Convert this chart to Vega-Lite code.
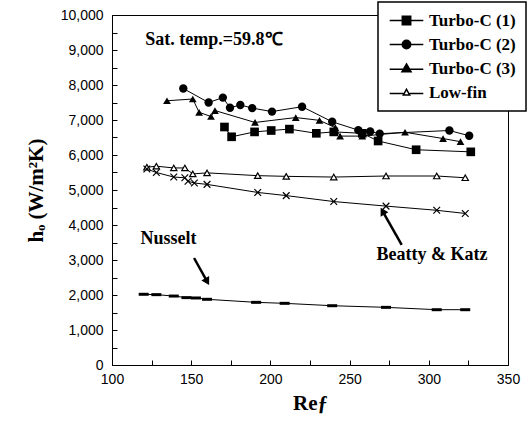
{
  "$schema": "https://vega.github.io/schema/vega-lite/v6.json",
  "width": 396,
  "height": 350,
  "autosize": "none",
  "padding": {"left": 112, "top": 15, "right": 23, "bottom": 59},
  "background": "white",
  "datasets": {
    "pts": [
      {"series": "Turbo-C (1)", "re": 171, "h": 6800},
      {"series": "Turbo-C (1)", "re": 175.5, "h": 6520},
      {"series": "Turbo-C (1)", "re": 190, "h": 6660},
      {"series": "Turbo-C (1)", "re": 200.5, "h": 6700},
      {"series": "Turbo-C (1)", "re": 212, "h": 6740},
      {"series": "Turbo-C (1)", "re": 229, "h": 6620},
      {"series": "Turbo-C (1)", "re": 240, "h": 6660},
      {"series": "Turbo-C (1)", "re": 258, "h": 6620},
      {"series": "Turbo-C (1)", "re": 268, "h": 6400},
      {"series": "Turbo-C (1)", "re": 292, "h": 6150},
      {"series": "Turbo-C (1)", "re": 326.5, "h": 6090},
      {"series": "Turbo-C (2)", "re": 145, "h": 7900},
      {"series": "Turbo-C (2)", "re": 161, "h": 7500},
      {"series": "Turbo-C (2)", "re": 170, "h": 7640},
      {"series": "Turbo-C (2)", "re": 174.5, "h": 7350},
      {"series": "Turbo-C (2)", "re": 181, "h": 7430},
      {"series": "Turbo-C (2)", "re": 188.5, "h": 7340},
      {"series": "Turbo-C (2)", "re": 201, "h": 7240},
      {"series": "Turbo-C (2)", "re": 220, "h": 7380},
      {"series": "Turbo-C (2)", "re": 239, "h": 6950},
      {"series": "Turbo-C (2)", "re": 255.5, "h": 6710},
      {"series": "Turbo-C (2)", "re": 263, "h": 6670},
      {"series": "Turbo-C (2)", "re": 269, "h": 6610},
      {"series": "Turbo-C (2)", "re": 313, "h": 6700},
      {"series": "Turbo-C (2)", "re": 325.5, "h": 6550},
      {"series": "Turbo-C (3)", "re": 134.7, "h": 7550},
      {"series": "Turbo-C (3)", "re": 151, "h": 7600},
      {"series": "Turbo-C (3)", "re": 155, "h": 7220},
      {"series": "Turbo-C (3)", "re": 162.5, "h": 7100},
      {"series": "Turbo-C (3)", "re": 165, "h": 7270},
      {"series": "Turbo-C (3)", "re": 190.3, "h": 6930},
      {"series": "Turbo-C (3)", "re": 216, "h": 7070},
      {"series": "Turbo-C (3)", "re": 231, "h": 6990},
      {"series": "Turbo-C (3)", "re": 241, "h": 6780},
      {"series": "Turbo-C (3)", "re": 244, "h": 6540},
      {"series": "Turbo-C (3)", "re": 258, "h": 6540},
      {"series": "Turbo-C (3)", "re": 285, "h": 6650},
      {"series": "Turbo-C (3)", "re": 309, "h": 6470},
      {"series": "Turbo-C (3)", "re": 320, "h": 6380},
      {"series": "Low-fin", "re": 122, "h": 5650},
      {"series": "Low-fin", "re": 128, "h": 5680},
      {"series": "Low-fin", "re": 139, "h": 5630},
      {"series": "Low-fin", "re": 146, "h": 5630},
      {"series": "Low-fin", "re": 151, "h": 5460},
      {"series": "Low-fin", "re": 160, "h": 5490},
      {"series": "Low-fin", "re": 192, "h": 5410},
      {"series": "Low-fin", "re": 210, "h": 5390},
      {"series": "Low-fin", "re": 240, "h": 5370},
      {"series": "Low-fin", "re": 273, "h": 5400},
      {"series": "Low-fin", "re": 305, "h": 5400},
      {"series": "Low-fin", "re": 323, "h": 5350},
      {"series": "Beatty & Katz", "re": 122, "h": 5600},
      {"series": "Beatty & Katz", "re": 128, "h": 5500},
      {"series": "Beatty & Katz", "re": 139, "h": 5370},
      {"series": "Beatty & Katz", "re": 146, "h": 5350},
      {"series": "Beatty & Katz", "re": 148, "h": 5250},
      {"series": "Beatty & Katz", "re": 152, "h": 5200},
      {"series": "Beatty & Katz", "re": 160, "h": 5160},
      {"series": "Beatty & Katz", "re": 192, "h": 4930},
      {"series": "Beatty & Katz", "re": 210, "h": 4840},
      {"series": "Beatty & Katz", "re": 240, "h": 4670},
      {"series": "Beatty & Katz", "re": 273, "h": 4540},
      {"series": "Beatty & Katz", "re": 305, "h": 4420},
      {"series": "Beatty & Katz", "re": 323, "h": 4330},
      {"series": "Nusselt", "re": 120, "h": 2020},
      {"series": "Nusselt", "re": 128, "h": 2010},
      {"series": "Nusselt", "re": 139, "h": 1970},
      {"series": "Nusselt", "re": 147, "h": 1925},
      {"series": "Nusselt", "re": 153, "h": 1915},
      {"series": "Nusselt", "re": 160, "h": 1877},
      {"series": "Nusselt", "re": 191, "h": 1790},
      {"series": "Nusselt", "re": 209, "h": 1762},
      {"series": "Nusselt", "re": 239, "h": 1694},
      {"series": "Nusselt", "re": 273, "h": 1647},
      {"series": "Nusselt", "re": 305, "h": 1580},
      {"series": "Nusselt", "re": 323, "h": 1580}
    ],
    "notes": [
      {"text": "Sat. temp.=59.8℃", "re": 121, "h": 9290},
      {"text": "Nusselt", "re": 118, "h": 3600},
      {"text": "Beatty & Katz", "re": 267, "h": 3140}
    ],
    "arrows": [
      {"name": "Nusselt", "re": 151.8, "h": 3057, "re2": 160.1, "h2": 2383},
      {"name": "Beatty & Katz", "re": 282.9, "h": 3429, "re2": 270.8, "h2": 4397}
    ]
  },
  "encoding": {
    "x": {
      "field": "re", "type": "quantitative",
      "scale": {"domain": [100, 350], "nice": false, "zero": false},
      "axis": {
        "title": "Reƒ",
        "values": [100, 125, 150, 175, 200, 225, 250, 275, 300, 325, 350],
        "labelExpr": "datum.value % 50 === 0 ? datum.label : ''",
        "tickSize": -5, "labelPadding": 12, "titlePadding": 6,
        "titleFont": "Liberation Serif", "titleFontSize": 21, "titleFontWeight": "bold"
      }
    },
    "y": {
      "field": "h", "type": "quantitative",
      "scale": {"domain": [0, 10000], "nice": false},
      "axis": {
        "title": "hₒ (W/m²K)",
        "values": [0, 500, 1000, 1500, 2000, 2500, 3000, 3500, 4000, 4500, 5000, 5500, 6000, 6500, 7000, 7500, 8000, 8500, 9000, 9500, 10000],
        "format": ",.0f",
        "labelExpr": "datum.value % 1000 === 0 ? datum.label : ''",
        "tickSize": -5, "labelPadding": 14, "titlePadding": 14,
        "titleFont": "Liberation Serif", "titleFontSize": 21, "titleFontWeight": "bold"
      }
    }
  },
  "layer": [
    {
      "data": {"name": "pts"},
      "mark": {"type": "line", "color": "black", "strokeWidth": 1},
      "encoding": {"detail": {"field": "series", "type": "nominal"}}
    },
    {
      "data": {"name": "pts"},
      "transform": [{"filter": "datum.series === 'Turbo-C (1)'"}],
      "mark": {"type": "point", "shape": "square", "filled": true, "color": "black", "opacity": 1, "size": 75}
    },
    {
      "data": {"name": "pts"},
      "transform": [{"filter": "datum.series === 'Turbo-C (2)'"}],
      "mark": {"type": "point", "shape": "circle", "filled": true, "color": "black", "opacity": 1, "size": 70}
    },
    {
      "data": {"name": "pts"},
      "transform": [{"filter": "datum.series === 'Turbo-C (3)'"}],
      "mark": {"type": "point", "shape": "triangle-up", "filled": true, "color": "black", "opacity": 1, "size": 60}
    },
    {
      "data": {"name": "pts"},
      "transform": [{"filter": "datum.series === 'Low-fin'"}],
      "mark": {"type": "point", "shape": "triangle-up", "filled": true, "fill": "white", "stroke": "black", "strokeWidth": 1.2, "opacity": 1, "size": 40}
    },
    {
      "data": {"name": "pts"},
      "transform": [{"filter": "datum.series === 'Beatty & Katz'"}],
      "mark": {"type": "point", "shape": "M-1,-1L1,1M-1,1L1,-1", "filled": false, "stroke": "black", "strokeWidth": 1.2, "opacity": 1, "size": 45}
    },
    {
      "data": {"name": "pts"},
      "transform": [{"filter": "datum.series === 'Nusselt'"}],
      "mark": {"type": "point", "shape": "M-1,-0.3H1V0.3H-1Z", "filled": true, "color": "black", "opacity": 1, "size": 100}
    },
    {
      "data": {"name": "arrows"},
      "mark": {"type": "rule", "color": "black", "strokeWidth": 2.5},
      "encoding": {"x2": {"field": "re2"}, "y2": {"field": "h2"}}
    },
    {
      "data": {"name": "arrows"},
      "transform": [{"filter": "datum.name === 'Nusselt'"}],
      "mark": {"type": "point", "shape": "triangle-up", "filled": true, "color": "black", "opacity": 1, "size": 80, "angle": 150},
      "encoding": {"x": {"field": "re2", "type": "quantitative"}, "y": {"field": "h2", "type": "quantitative"}}
    },
    {
      "data": {"name": "arrows"},
      "transform": [{"filter": "datum.name === 'Beatty & Katz'"}],
      "mark": {"type": "point", "shape": "triangle-up", "filled": true, "color": "black", "opacity": 1, "size": 80, "angle": 330},
      "encoding": {"x": {"field": "re2", "type": "quantitative"}, "y": {"field": "h2", "type": "quantitative"}}
    },
    {
      "data": {"name": "notes"},
      "mark": {"type": "text", "align": "left", "baseline": "middle", "font": "Liberation Serif", "fontWeight": "bold", "fontSize": 18, "color": "black"},
      "encoding": {"text": {"field": "text", "type": "nominal"}}
    },
    {
      "data": {"name": "pts"},
      "transform": [{"filter": "false"}],
      "mark": {"type": "point", "filled": true, "stroke": "black", "strokeWidth": 1, "size": 196, "opacity": 1},
      "encoding": {
        "shape": {"field": "series", "type": "nominal",
          "scale": {"domain": ["Turbo-C (1)", "Turbo-C (2)", "Turbo-C (3)", "Low-fin"],
            "range": [
              "M-2.4,0H2.4M-0.6,-0.6H0.6V0.6H-0.6Z",
              "M-2.4,0H2.4M0.6,0A0.6,0.6,0,1,1,-0.6,0A0.6,0.6,0,1,1,0.6,0Z",
              "M-2.4,0.1H2.4M0,-0.65L0.65,0.45H-0.65Z",
              "M-2.4,0.15H-0.45M0.45,0.15H2.4M0,-0.45L0.45,0.35H-0.45Z"
            ]},
          "legend": {
            "title": null, "labelFont": "Liberation Serif", "labelFontWeight": "bold", "labelFontSize": 17,
            "symbolSize": 196, "labelOffset": 14, "symbolOffset": 10,
            "encode": {"symbols": {"update": {"stroke": {"value": "black"}, "strokeWidth": {"value": 1}, "opacity": {"value": 1}}}}
          }},
        "fill": {"field": "series", "type": "nominal",
          "scale": {"domain": ["Turbo-C (1)", "Turbo-C (2)", "Turbo-C (3)", "Low-fin"],
            "range": ["black", "black", "black", "white"]},
          "legend": {
            "title": null, "labelFont": "Liberation Serif", "labelFontWeight": "bold", "labelFontSize": 17,
            "symbolSize": 196, "labelOffset": 14, "symbolOffset": 10,
            "encode": {"symbols": {"update": {"stroke": {"value": "black"}, "strokeWidth": {"value": 1}, "opacity": {"value": 1}}}}
          }}
      }
    }
  ],
  "config": {
    "view": {"stroke": "black", "strokeWidth": 1},
    "axis": {
      "grid": false, "domainColor": "black", "tickColor": "black",
      "labelColor": "black", "titleColor": "black",
      "labelFont": "Liberation Sans", "labelFontSize": 14,
      "labelFlush": false, "labelOverlap": false
    },
    "legend": {
      "orient": "none", "legendX": 266, "legendY": -13,
      "strokeColor": "black", "strokeWidth": 1.5, "fillColor": "white",
      "padding": 10,
      "labelFont": "Liberation Serif", "labelFontWeight": "bold", "labelFontSize": 17,
      "labelColor": "black", "rowPadding": 6
    }
  }
}
